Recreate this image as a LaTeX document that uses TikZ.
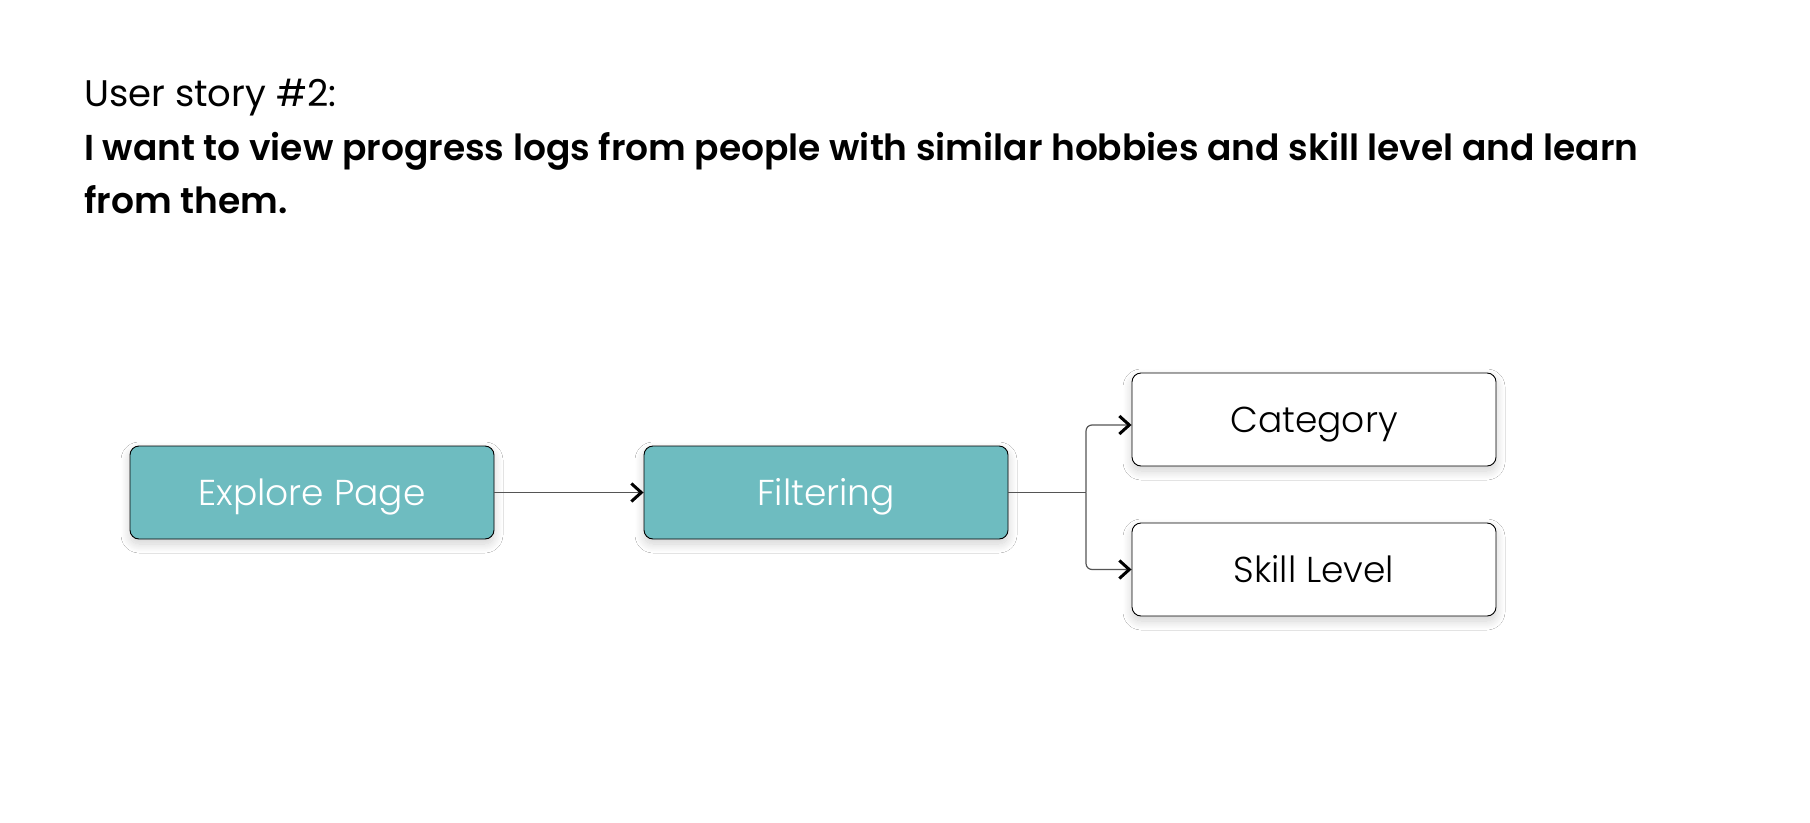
\documentclass[tikz,border=0pt]{standalone}
\usepackage{fontspec}
\setmainfont{Poppins}
\newfontfamily\poplight{Poppins Light}
\newfontfamily\popsemi{Poppins SemiBold}
\usetikzlibrary{arrows.meta,shadows.blur}
\definecolor{tealbox}{HTML}{6EBCC0}
\definecolor{connc}{HTML}{555555}
\begin{document}
\begin{tikzpicture}[x=1pt,y=-1pt,
  box/.style={draw=black, line width=0.9pt, rounded corners=9pt,
    minimum width=364pt, minimum height=93pt, inner sep=0pt,
    text height=25pt, text depth=0pt,
    blur shadow={shadow xshift=0pt, shadow yshift=-5pt, shadow blur radius=9pt, shadow blur steps=14, shadow opacity=18},
    font=\poplight\fontsize{36}{42}\selectfont},
  tealnode/.style={box, fill=tealbox, text=white},
  whitenode/.style={box, fill=white, text=black},
  conn/.style={draw=connc, line width=1.2pt},
  tip/.style={-{Straight Barb[length=10pt,width=18pt,line width=3pt,color=black]}}
]
\useasboundingbox (0,0) rectangle (1810,822);
\fill[white] (0,0) rectangle (1810,822);
\node[anchor=base west, inner sep=0pt, font=\fontsize{37}{44}\selectfont] (title) at (84,106) {User story \#2:};
\node[anchor=base west, inner sep=0pt, font=\popsemi\fontsize{36}{42}\selectfont] (l1) at (84,160) {I want to view progress logs from people with similar hobbies and skill level and learn};
\node[anchor=base west, inner sep=0pt, font=\popsemi\fontsize{36}{42}\selectfont] (l2) at (84,213) {from them.};
\node[tealnode] (ex) at (312,492.5) {Explore Page};
\node[tealnode] (fi) at (826,492.5) {Filtering};
\node[whitenode] (ca) at (1314,419.5) {Category};
\node[whitenode] (sk) at (1314,569.5) {Skill Level};
\coordinate (br) at (1086,492.5);
\draw[conn,tip] (ex.east) -- (fi.west);
\draw[conn] (fi.east) -- (br);
\draw[conn,tip,rounded corners=6pt] (br) |- ([yshift=-5.5pt]ca.west);
\draw[conn,tip,rounded corners=6pt] (br) |- (sk.west);
\end{tikzpicture}
\end{document}
